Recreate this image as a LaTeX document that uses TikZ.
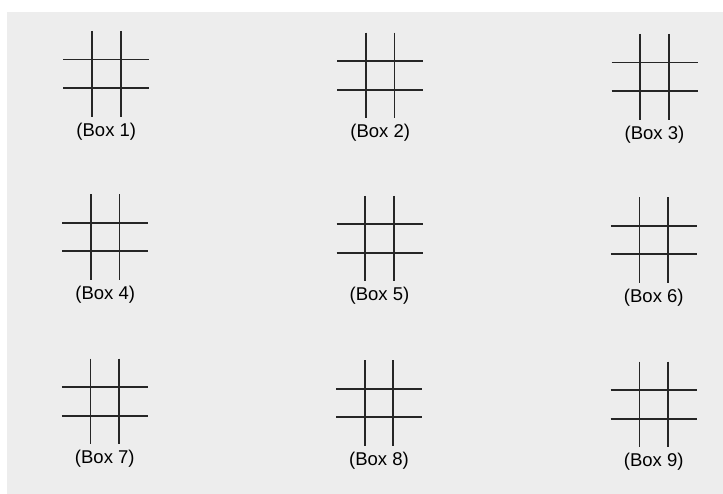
\documentclass[tikz,border=0pt]{standalone}
\usepackage{fontspec}
\setmainfont{Liberation Sans}
\usetikzlibrary{positioning}

\begin{document}
\begin{tikzpicture}[
    x=1pt,
    y=-1pt,
    paper/.style={fill=black!7},
    grid line/.style={line width=1.8pt, draw=black!85},
    box label/.style={font=\fontsize{18.5}{18.5}\selectfont, inner sep=0pt}
]

% page
\useasboundingbox (0,0) rectangle (723,494);
\fill[paper] (7,12) rectangle (723,494);

% grids and labels
\foreach \n/\cx/\cy in {1/106.3/73.8, 2/380.2/75.5, 3/654.5/76.8,
                        4/105.2/237, 5/379.5/238.7, 6/653.8/240,
                        7/104.8/401.3, 8/379/403, 9/653.7/404.3} {
  \begin{scope}[shift={(\cx,\cy)}]
    \coordinate (g\n) at (0,0);
    \draw[grid line] (-14.3,-42.8) -- (-14.3,42.8);
    \draw[grid line] (14.3,-42.8) -- (14.3,42.8);
    \draw[grid line] (-43,-14.3) -- (43,-14.3);
    \draw[grid line] (-43,14.3) -- (43,14.3);
    \node[box label] (l\n) at (0,57.5) {(Box \n)};
  \end{scope}
}
\end{tikzpicture}
\end{document}
